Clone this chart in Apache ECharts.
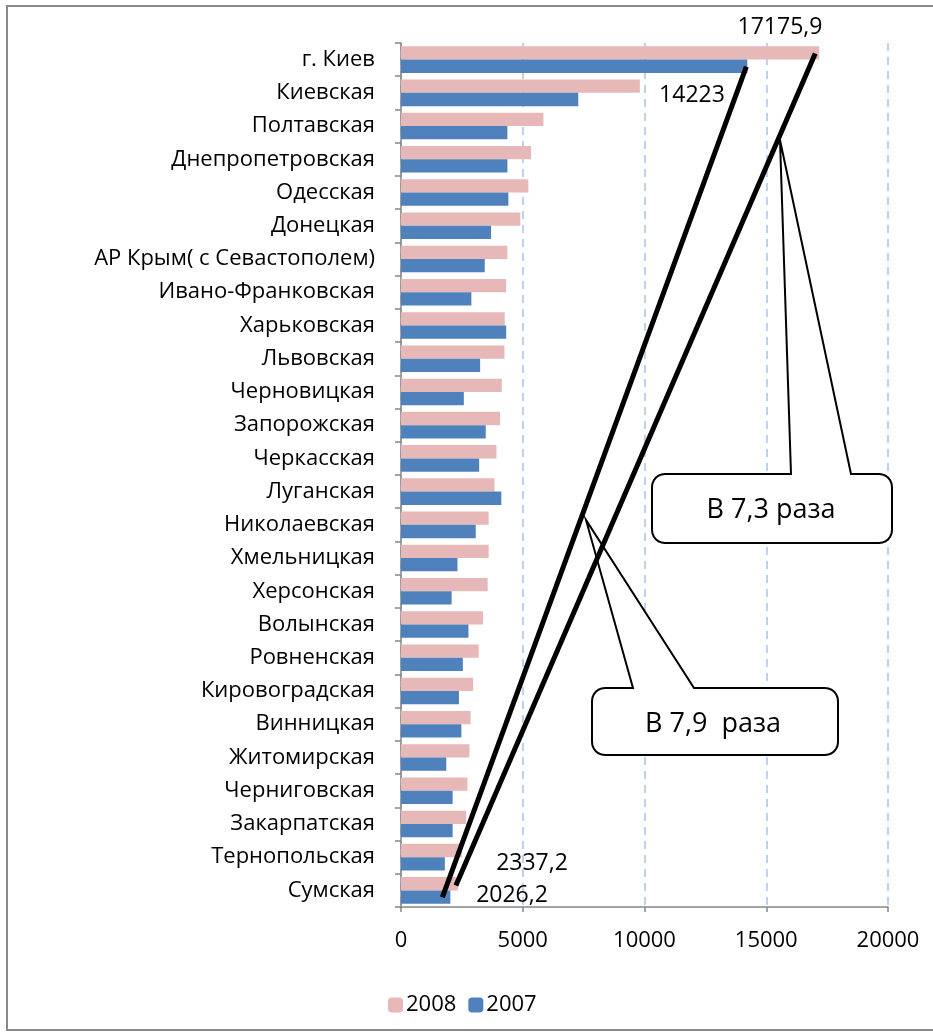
<!DOCTYPE html>
<html>
<head>
<meta charset="utf-8">
<script src="https://cdn.jsdelivr.net/npm/echarts@6/dist/echarts.min.js"></script>
<style>
  html, body { margin: 0; padding: 0; background: #fff; }
  #chart { width: 933px; height: 1034px; }
</style>
</head>
<body>
<div id="chart"></div>
<script>
// регионы сверху вниз
const categories = ['г. Киев', 'Киевская', 'Полтавская', 'Днепропетровская', 'Одесская', 'Донецкая',
  'АР Крым( с Севастополем)', 'Ивано-Франковская', 'Харьковская', 'Львовская', 'Черновицкая',
  'Запорожская', 'Черкасская', 'Луганская', 'Николаевская', 'Хмельницкая', 'Херсонская',
  'Волынская', 'Ровненская', 'Кировоградская', 'Винницкая', 'Житомирская', 'Черниговская',
  'Закарпатская', 'Тернопольская', 'Сумская'];
const values2008 = [17175.9, 9810, 5850, 5340, 5230, 4900, 4370, 4320, 4260, 4250, 4140, 4070, 3920,
  3840, 3600, 3600, 3560, 3370, 3190, 2960, 2860, 2810, 2730, 2670, 2500, 2337.2];
const values2007 = [14223, 7280, 4370, 4370, 4410, 3700, 3440, 2890, 4320, 3250, 2580, 3480, 3210,
  4120, 3070, 2320, 2080, 2770, 2540, 2380, 2480, 1860, 2120, 2120, 1800, 2026.2];
const xTicks = [0, 5000, 10000, 15000, 20000];

const FONT = '"Open Sans", "Noto Sans", sans-serif';

let chart = echarts.init(document.getElementById('chart'));

let option = {
  animation: false,
  backgroundColor: '#fff',
  textStyle: {fontFamily: FONT},
  grid: {left: 401, top: 43, width: 487, height: 864, containLabel: false},
  legend: {
    left: 383,
    top: 989,
    itemWidth: 15,
    itemHeight: 15,
    itemGap: 12,
    textStyle: {fontSize: 22, color: '#000', fontFamily: FONT, padding: [0, 0, 0, -2]},
    data: ['2008', '2007']
  },
  xAxis: {
    type: 'value',
    min: xTicks[0],
    max: xTicks[xTicks.length - 1],
    interval: 5000,
    axisLine: {show: true, lineStyle: {color: '#868686', width: 1.5}},
    axisTick: {show: true, length: 5, lineStyle: {color: '#868686', width: 1.5}},
    axisLabel: {fontSize: 22, color: '#000', margin: 23, fontFamily: FONT, formatter: v => String(v)},
    splitLine: {show: true, lineStyle: {color: '#A9C2EA', type: [8, 6], width: 1.5}}
  },
  yAxis: {
    type: 'category',
    inverse: true,
    data: categories,
    axisLine: {show: true, lineStyle: {color: '#868686', width: 1.5}},
    axisTick: {show: true, length: 6, lineStyle: {color: '#868686', width: 1.5}},
    axisLabel: {fontSize: 22, color: '#000', margin: 26, fontFamily: FONT, padding: [3, 0, 0, 0]}
  },
  series: [
    {
      name: '2008',
      type: 'bar',
      data: values2008,
      barGap: '0%',
      barCategoryGap: '20%',
      itemStyle: {color: '#E6B9B8'}
    },
    {
      name: '2007',
      type: 'bar',
      data: values2007,
      barGap: '0%',
      barCategoryGap: '20%',
      itemStyle: {color: '#4F81BD'}
    }
  ]
};
chart.setOption(option);

// точки на концах столбцов (центр полосы +/- половина столбца)
function barEnd(value, cat, dy) {
  let p = chart.convertToPixel({gridIndex: 0}, [value, cat]);
  return [p[0], p[1] + dy];
}
const first = categories[0];
const last = categories[categories.length - 1];
let aTop = barEnd(values2007[0], first, 7);
aTop[0] -= 1;
let aBot = barEnd(values2007[values2007.length - 1], last, 7);
aBot[0] -= 8;
let bTop = barEnd(values2008[0], first, -6);
bTop[0] -= 4;
let bBot = barEnd(values2008[values2008.length - 1], last, -5);
bBot[0] -= 2;

// выноска: скруглённый прямоугольник с клином к точке (ax, ay)
function arc(cx, cy, r, a0, a1) {
  let pts = [];
  for (let i = 0; i <= 6; i++) {
    let a = a0 + (a1 - a0) * i / 6;
    pts.push([cx + r * Math.cos(a), cy + r * Math.sin(a)]);
  }
  return pts;
}
function callout(x1, y1, x2, y2, r, w1, w2, ax, ay) {
  let pi = Math.PI;
  return [].concat(
    [[w1, y1], [ax, ay], [w2, y1]],
    arc(x2 - r, y1 + r, r, -pi / 2, 0),
    arc(x2 - r, y2 - r, r, 0, pi / 2),
    arc(x1 + r, y2 - r, r, pi / 2, pi),
    arc(x1 + r, y1 + r, r, pi, pi * 1.5)
  );
}

const lbl = {fill: '#000', fontSize: 23, fontFamily: FONT, textAlign: 'center', textVerticalAlign: 'middle'};

chart.setOption({
  graphic: [
    // рамка
    {type: 'rect', shape: {x: 7, y: 6, width: 940, height: 1024}, style: {fill: null, stroke: '#898989', lineWidth: 2}, z: 1},
    // выноски
    {type: 'polygon', shape: {points: callout(652, 474, 892, 543, 13, 791, 851, 780, 140)},
      style: {fill: '#fff', stroke: '#000', lineWidth: 2}, z: 10},
    {type: 'text', style: Object.assign({}, lbl, {text: 'В 7,3 раза', x: 771, y: 510, fontSize: 27}), z: 11},
    {type: 'polygon', shape: {points: callout(592, 688, 838, 755, 13, 633, 694, 586, 520)},
      style: {fill: '#fff', stroke: '#000', lineWidth: 2}, z: 10},
    {type: 'text', style: Object.assign({}, lbl, {text: 'В 7,9  раза', x: 713, y: 724, fontSize: 27}), z: 11},
    // толстые линии
    {type: 'line', shape: {x1: aTop[0], y1: aTop[1], x2: aBot[0], y2: aBot[1]},
      style: {stroke: '#000', lineWidth: 5}, z: 12},
    {type: 'line', shape: {x1: bTop[0], y1: bTop[1], x2: bBot[0], y2: bBot[1]},
      style: {stroke: '#000', lineWidth: 5}, z: 12},
    // подписи значений
    {type: 'text', style: Object.assign({}, lbl, {text: '17175,9', x: 780, y: 27}), z: 13},
    {type: 'text', style: Object.assign({}, lbl, {text: '14223', x: 692, y: 95}), z: 13},
    {type: 'text', style: Object.assign({}, lbl, {text: '2337,2', x: 532, y: 863}), z: 13},
    {type: 'text', style: Object.assign({}, lbl, {text: '2026,2', x: 512, y: 895}), z: 13}
  ]
});
</script>
</body>
</html>
